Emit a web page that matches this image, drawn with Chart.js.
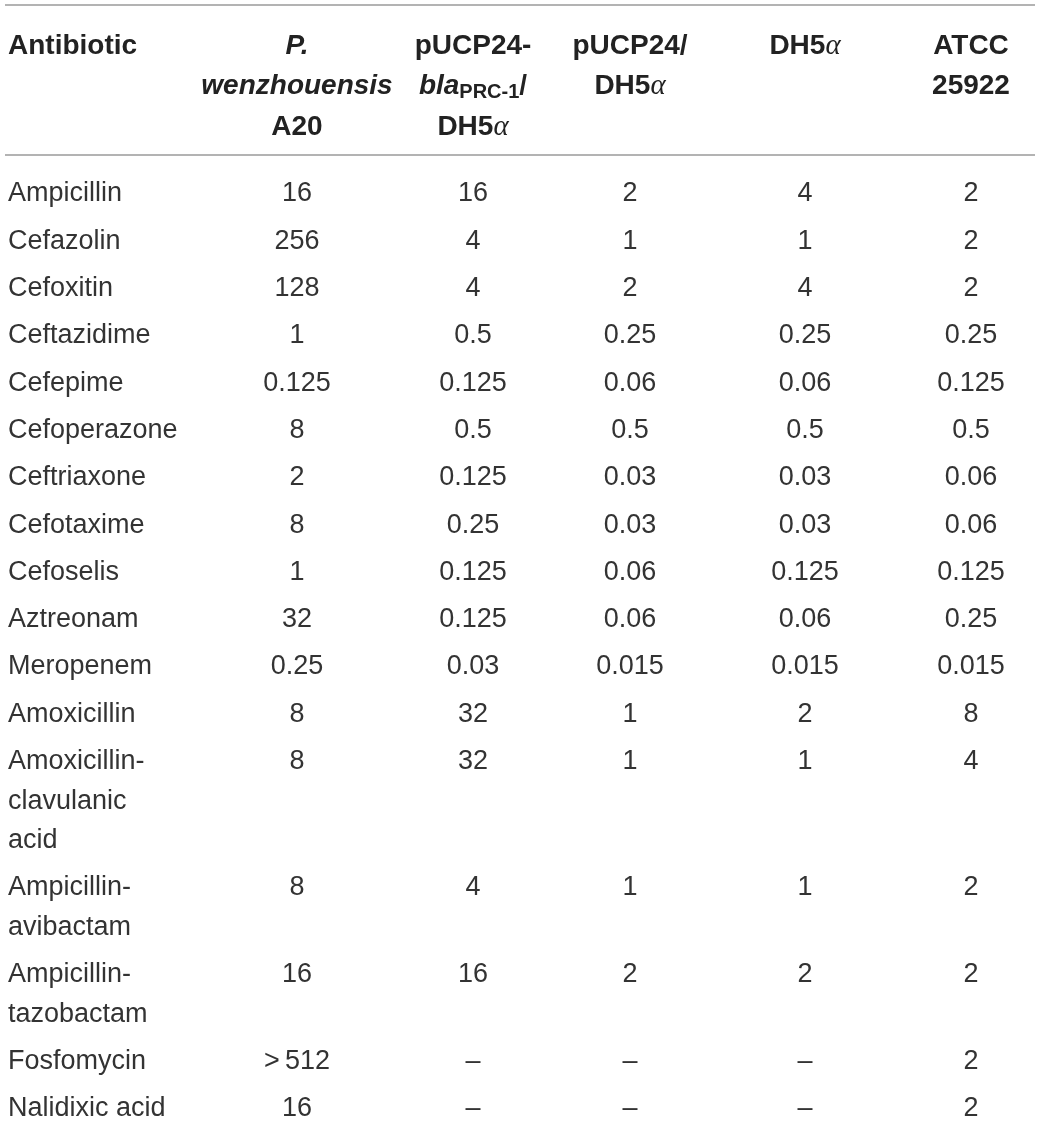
<!DOCTYPE html>
<html>
<head>
<meta charset="utf-8">
<script src="https://cdn.jsdelivr.net/npm/chart.js@4.4.1/dist/chart.umd.min.js"></script>
<style>
  html, body { margin: 0; padding: 0; background: #fff; }
  #wrap { width: 1040px; height: 1122px; position: relative; }
</style>
</head>
<body>
<div id="wrap"><canvas id="micTable"></canvas></div>
<script>
// Row labels (each entry is the list of wrapped lines)
const antibiotics = [
  ["Ampicillin"], ["Cefazolin"], ["Cefoxitin"], ["Ceftazidime"], ["Cefepime"],
  ["Cefoperazone"], ["Ceftriaxone"], ["Cefotaxime"], ["Cefoselis"], ["Aztreonam"],
  ["Meropenem"], ["Amoxicillin"], ["Amoxicillin-", "clavulanic", "acid"],
  ["Ampicillin-", "avibactam"], ["Ampicillin-", "tazobactam"], ["Fosfomycin"],
  ["Nalidixic acid"]
];

// MIC values (mg/L) per strain
const wenzhouensisA20 = ["16", "256", "128", "1", "0.125", "8", "2", "8", "1", "32", "0.25", "8", "8", "8", "16", ">\u2009512", "16"];
const pUCP24blaDH5a   = ["16", "4", "4", "0.5", "0.125", "0.5", "0.125", "0.25", "0.125", "0.125", "0.03", "32", "32", "4", "16", "\u2013", "\u2013"];
const pUCP24DH5a      = ["2", "1", "2", "0.25", "0.06", "0.5", "0.03", "0.03", "0.06", "0.06", "0.015", "1", "1", "1", "2", "\u2013", "\u2013"];
const dh5a            = ["4", "1", "4", "0.25", "0.06", "0.5", "0.03", "0.03", "0.125", "0.06", "0.015", "2", "1", "1", "2", "\u2013", "\u2013"];
const atcc25922       = ["2", "2", "2", "0.25", "0.125", "0.5", "0.06", "0.06", "0.125", "0.25", "0.015", "8", "4", "2", "2", "2", "2"];

// Column headers: lines made of styled runs
const headers = [
  [[{ t: "Antibiotic" }]],
  [[{ t: "P.", it: true }], [{ t: "wenzhouensis", it: true }], [{ t: "A20" }]],
  [[{ t: "pUCP24-" }], [{ t: "bla", it: true }, { t: "PRC-1", sub: true }, { t: "/" }], [{ t: "DH5" }, { t: "\u03b1", greek: true }]],
  [[{ t: "pUCP24/" }], [{ t: "DH5" }, { t: "\u03b1", greek: true }]],
  [[{ t: "DH5" }, { t: "\u03b1", greek: true }]],
  [[{ t: "ATCC" }], [{ t: "25922" }]]
];

const columns = [wenzhouensisA20, pUCP24blaDH5a, pUCP24DH5a, dh5a, atcc25922];

// layout (scale units = canvas px)
const colX = [8, 297, 473, 630, 805, 971];
const headTop = 43, headPitch = 40.5;
const firstRow = 191, linePitch = 39.5, rowPitch = 47.3;
const rules = [5, 155];
const textShift = 3;

const SANS = "'Liberation Sans', Arial, Helvetica, sans-serif";

// y of each row's first line
const rowY = [];
let yy = firstRow;
antibiotics.forEach((lines) => {
  rowY.push(yy);
  yy += (lines.length - 1) * linePitch + rowPitch;
});

const datasets = [];
datasets.push({
  label: "Antibiotic",
  data: antibiotics.map((lines, i) => ({ x: colX[0], y: rowY[i], lines })),
  align: "left"
});
columns.forEach((vals, c) => {
  datasets.push({
    label: "col" + (c + 1),
    data: vals.map((v, i) => ({ x: colX[c + 1], y: rowY[i], lines: [v] })),
    align: "center"
  });
});
datasets.forEach((d) => { d.pointRadius = 0; d.pointHoverRadius = 0; });

function runFont(run) {
  if (run.greek) return "italic 29px 'Liberation Serif', 'DejaVu Serif', serif";
  if (run.sub) return "bold 20px " + SANS;
  return (run.it ? "italic " : "") + "bold 28px " + SANS;
}

const tablePlugin = {
  id: "tablePlugin",
  afterDatasetsDraw(chart) {
    const { ctx, scales: { x, y } } = chart;
    ctx.save();

    // horizontal rules
    ctx.strokeStyle = "#9a9a9a";
    ctx.lineWidth = 1.5;
    rules.forEach((r) => {
      const py = y.getPixelForValue(r);
      ctx.beginPath();
      ctx.moveTo(x.getPixelForValue(5), py);
      ctx.lineTo(x.getPixelForValue(1035), py);
      ctx.stroke();
    });

    // header
    ctx.fillStyle = "#222";
    ctx.textBaseline = "middle";
    headers.forEach((lines, c) => {
      lines.forEach((runs, li) => {
        const py = y.getPixelForValue(headTop + li * headPitch) + textShift;
        const widths = runs.map((r) => { ctx.font = runFont(r); return ctx.measureText(r.t).width; });
        const total = widths.reduce((a, b) => a + b, 0);
        let px = x.getPixelForValue(colX[c]);
        if (c > 0) px -= total / 2;
        runs.forEach((r, k) => {
          ctx.font = runFont(r);
          ctx.textAlign = "left";
          ctx.fillText(r.t, px, py + (r.sub ? 6 : 0));
          px += widths[k];
        });
      });
    });

    // body cells from dataset elements
    ctx.fillStyle = "#333";
    ctx.font = "27px " + SANS;
    chart.data.datasets.forEach((ds, di) => {
      const meta = chart.getDatasetMeta(di);
      ctx.textAlign = ds.align;
      meta.data.forEach((el, i) => {
        ds.data[i].lines.forEach((ln, li) => {
          ctx.fillText(ln, el.x, el.y + li * linePitch + textShift);
        });
      });
    });
    ctx.restore();
  }
};

new Chart(document.getElementById("micTable"), {
  type: "scatter",
  data: { datasets },
  options: {
    responsive: true,
    maintainAspectRatio: false,
    animation: false,
    layout: { padding: 0 },
    plugins: { legend: { display: false }, tooltip: { enabled: false } },
    scales: {
      x: { type: "linear", min: 0, max: 1040, display: false },
      y: { type: "linear", min: 0, max: 1122, reverse: true, display: false }
    }
  },
  plugins: [tablePlugin]
});
</script>
</body>
</html>
